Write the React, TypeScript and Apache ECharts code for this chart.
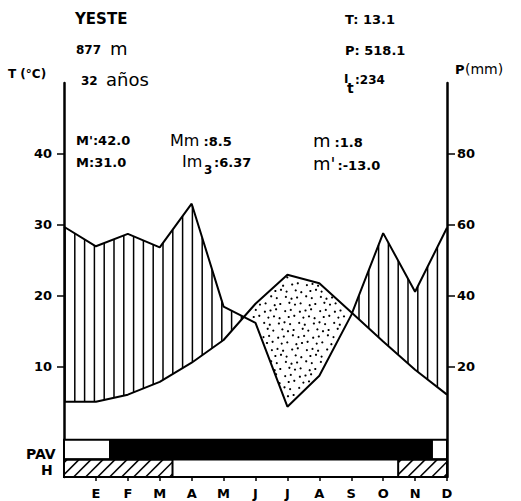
import React, { useEffect, useRef } from "react";
import * as echarts from "echarts";

// ---- data ----
const months = ["E", "F", "M", "A", "M", "J", "J", "A", "S", "O", "N", "D"];
// value drawn at the left edge (previous December), then Jan..Dec
const tempStart = 5.1;
const temperature = [5.1, 6.1, 7.9, 10.6, 13.8, 18.9, 23.0, 21.8, 17.7, 13.6, 9.6, 6.1];
const precipStart = 59.5;
const precipitation = [54, 57.5, 53.7, 66, 37, 32.4, 8.8, 17.5, 34.6, 57.7, 41.2, 59.2];
const tempTicks = [10, 20, 30, 40];
const precipTicks = [20, 40, 60, 80];
const monthTicks = [1, 2, 3, 4, 5, 6, 7, 8, 9, 10, 11, 12];
// PAV row: black period (month positions)
const pavActive = [1.41, 11.56];
// H row: hatched (frost) periods
const frostPeriods = [
  [0, 3.4],
  [10.47, 12],
];
const station = "YESTE";
const altitude = "877";
const years = "32";
const meanT = "13.1";
const totalP = "518.1";
const itIndex = "234";
const absMax = "42.0";
const meanMax = "31.0";
const mmVal = "8.5";
const im3Val = "6.37";
const mVal = "1.8";
const absMin = "-13.0";

// ---- layout ----
const T_MIN = -5.5;
const T_MAX = 50;
const P_PER_T = 2;
const PAV_TOP = -0.25;
const PAV_BOTTOM = -3.05;
const FONT_FAMILY = '"DejaVu Sans", sans-serif';
const B = (s: number) => `bold ${s}px ${FONT_FAMILY}`;
const R = (s: number) => `${s}px ${FONT_FAMILY}`;

const tData = [[0, tempStart], ...temperature.map((v, i) => [i + 1, v])];
const pData = [[0, precipStart], ...precipitation.map((v, i) => [i + 1, v])];

const txt = (text: string, x: number, y: number, font: string) => ({
  type: "text",
  x,
  y,
  silent: true,
  style: { text, font, fill: "#000", textAlign: "left", textVerticalAlign: "middle" },
});

function yAt(pts: number[][], x: number) {
  for (let i = 0; i < pts.length - 1; i++) {
    const [ax, ay] = pts[i];
    const [bx, by] = pts[i + 1];
    if (x >= ax && x <= bx) return ay + ((by - ay) * (x - ax)) / (bx - ax || 1);
  }
  return pts[pts.length - 1][1];
}

function renderItem(_params: any, api: any) {
  const children: any[] = [];
  const tp = tData.map((d) => api.coord([d[0], d[1]]));
  const pp = pData.map((d) => api.coord([d[0], d[1] / P_PER_T]));
  const x0 = tp[0][0];
  const x1 = tp[tp.length - 1][0];
  const lineStyle = { stroke: "#000", lineWidth: 1.5 };

  // vertical hatching where precipitation curve is above temperature curve
  for (let x = x0 + 1; x < x1; x += 9.8) {
    const yT = yAt(tp, x);
    const yP = yAt(pp, x);
    if (yP < yT - 1) {
      children.push({ type: "line", shape: { x1: x, y1: yT, x2: x, y2: yP }, style: lineStyle });
    }
  }

  // dots where temperature curve is above precipitation curve
  const top = api.coord([0, T_MAX])[1];
  const zeroY = api.coord([0, 0])[1];
  let row = 0;
  for (let y = top; y < zeroY; y += 6.5, row++) {
    let col = 0;
    for (let x = x0 + (row % 2) * 3.5; x < x1; x += 7, col++) {
      const jx = (((row * 7 + col * 13) % 5) - 2) * 0.7;
      const jy = (((row * 11 + col * 3) % 5) - 2) * 0.6;
      const px = x + jx;
      const py = y + jy;
      if (px <= x0 || px >= x1) continue;
      const yT = yAt(tp, px);
      const yP = yAt(pp, px);
      if (py > yT + 2.5 && py < yP - 2.5) {
        children.push({ type: "circle", shape: { cx: px, cy: py, r: 1.1 }, style: { fill: "#000" } });
      }
    }
  }

  // PAV row
  const pavTop = api.coord([0, PAV_TOP])[1];
  const pavBot = api.coord([0, PAV_BOTTOM])[1];
  const hBot = api.coord([0, T_MIN])[1];
  children.push({
    type: "rect",
    shape: { x: x0, y: pavTop, width: x1 - x0, height: pavBot - pavTop },
    style: { fill: "#fff", stroke: "#000", lineWidth: 2 },
  });
  const ax = api.coord([pavActive[0], 0])[0];
  const bx = api.coord([pavActive[1], 0])[0];
  children.push({
    type: "rect",
    shape: { x: ax, y: pavTop, width: bx - ax, height: pavBot - pavTop },
    style: { fill: "#000" },
  });
  // H row
  children.push({
    type: "rect",
    shape: { x: x0, y: pavBot, width: x1 - x0, height: hBot - pavBot },
    style: { fill: "#fff", stroke: "#000", lineWidth: 2 },
  });
  frostPeriods.forEach(([a, b]) => {
    const xa = api.coord([a, 0])[0];
    const xb = api.coord([b, 0])[0];
    const h = hBot - pavBot;
    for (let s = xa - h + 3; s < xb; s += 12) {
      const tmin = Math.max(0, (xa - s) / h);
      const tmax = Math.min(1, (xb - s) / h);
      if (tmin < tmax) {
        children.push({
          type: "line",
          shape: { x1: s + tmin * h, y1: hBot - tmin * h, x2: s + tmax * h, y2: hBot - tmax * h },
          style: { stroke: "#000", lineWidth: 1.5 },
        });
      }
    }
    children.push({
      type: "rect",
      shape: { x: xa, y: pavBot, width: xb - xa, height: h },
      style: { fill: "none", stroke: "#000", lineWidth: 2 },
    });
  });

  return { type: "group", children };
}

export default function App() {
  const ref = useRef<HTMLDivElement>(null);
  useEffect(() => {
    if (!ref.current) return;
    const chart = echarts.init(ref.current, null, { renderer: "svg" });
    const axisLabelBase = { color: "#000", fontFamily: FONT_FAMILY, fontWeight: "bold", fontSize: 13 };
    chart.setOption({
      animation: false,
      backgroundColor: "#fff",
      grid: { left: 64, right: 74, top: 83, bottom: 24 },
      xAxis: {
        type: "value",
        min: 0,
        max: 12,
        axisLine: { show: true, onZero: false, lineStyle: { color: "#000", width: 2 } },
        axisTick: { show: true, customValues: monthTicks, length: 4, lineStyle: { color: "#000", width: 1.5 } },
        axisLabel: {
          ...axisLabelBase,
          customValues: monthTicks,
          margin: 10,
          formatter: (v: number) => months[Math.round(v) - 1] ?? "",
        },
        splitLine: { show: false },
      },
      yAxis: [
        {
          type: "value",
          min: T_MIN,
          max: T_MAX,
          position: "left",
          axisLine: { show: true, onZero: false, lineStyle: { color: "#000", width: 2.5 } },
          axisTick: { show: true, customValues: tempTicks, length: 7, lineStyle: { color: "#000", width: 1.5 } },
          axisLabel: { ...axisLabelBase, customValues: tempTicks, margin: 12 },
          splitLine: { show: false },
        },
        {
          type: "value",
          min: T_MIN * P_PER_T,
          max: T_MAX * P_PER_T,
          position: "right",
          axisLine: { show: true, onZero: false, lineStyle: { color: "#000", width: 2.5 } },
          axisTick: { show: true, customValues: precipTicks, length: 8, lineStyle: { color: "#000", width: 1.5 } },
          axisLabel: { ...axisLabelBase, customValues: precipTicks, margin: 10 },
          splitLine: { show: false },
        },
      ],
      graphic: [
        txt(station, 75, 19, B(15)),
        txt(altitude, 76, 50, B(12)),
        txt("m", 110, 48, R(18)),
        txt(years, 81, 81, B(12)),
        txt("años", 106, 79, R(18)),
        txt("T (°C)", 8, 74, B(12)),
        txt("T: " + meanT, 345, 19, B(13)),
        txt("P: " + totalP, 345, 50, B(13)),
        txt("I", 344, 79, B(12)),
        txt("t", 347, 88, B(14)),
        txt(":" + itIndex, 355, 80, B(12)),
        txt("P", 455, 69, B(13)),
        txt("(mm)", 465, 69, R(14)),
        txt("M':" + absMax, 76, 140, B(13)),
        txt("M:" + meanMax, 76, 162, B(13)),
        txt("Mm", 170, 140, R(16)),
        txt(" :" + mmVal, 199, 141, B(13)),
        txt("Im", 182, 161, R(16)),
        txt("3", 204, 170, B(12)),
        txt(":" + im3Val, 214, 162, B(13)),
        txt("m", 313, 140, R(18)),
        txt(" :" + mVal, 330, 142, B(13)),
        txt("m'", 313, 163, R(18)),
        txt(" :" + absMin, 333, 165, B(13)),
        txt("PAV", 26, 454, B(14)),
        txt("H", 41, 470, B(14)),
      ],
      series: [
        {
          type: "custom",
          coordinateSystem: "cartesian2d",
          xAxisIndex: 0,
          yAxisIndex: 0,
          data: [[0, 0]],
          renderItem,
          silent: true,
          clip: false,
          z: 1,
        },
        {
          type: "line",
          data: tData,
          yAxisIndex: 0,
          symbol: "none",
          silent: true,
          lineStyle: { color: "#000", width: 2 },
          z: 3,
        },
        {
          type: "line",
          data: pData,
          yAxisIndex: 1,
          symbol: "none",
          silent: true,
          lineStyle: { color: "#000", width: 2 },
          z: 3,
        },
      ],
    });
    return () => chart.dispose();
  }, []);
  return <div ref={ref} style={{ position: "absolute", left: 0, top: 0, width: 521, height: 501 }} />;
}
